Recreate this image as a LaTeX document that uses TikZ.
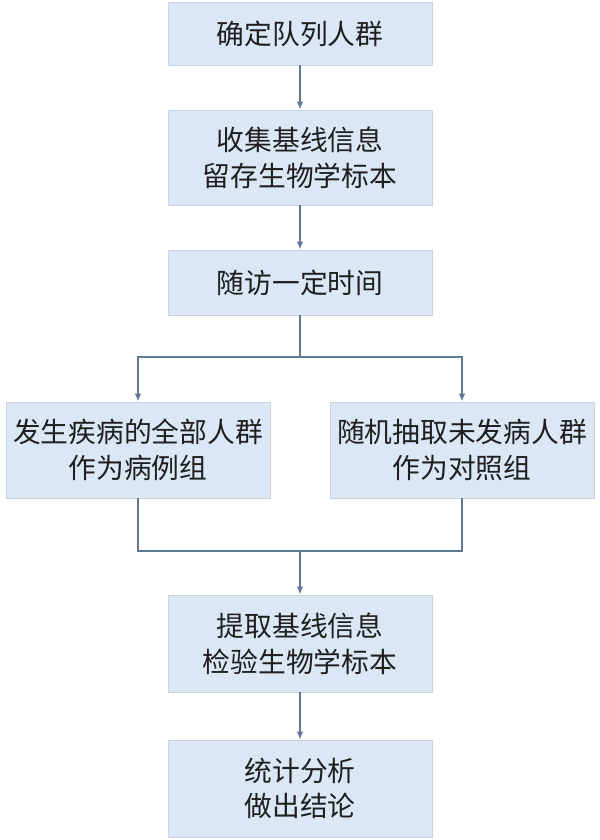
\documentclass[tikz,border=0pt]{standalone}
\usepackage{fontspec}
\setmainfont{Noto Sans CJK SC}
\usetikzlibrary{arrows.meta, positioning}
\definecolor{boxFill}{HTML}{DCE7F6}
\definecolor{boxLine}{HTML}{C9D3E0}
\definecolor{flowLine}{HTML}{5F7A91}
\tikzset{
    stepBox/.style={rectangle, draw=boxLine, fill=boxFill, line width=0.8pt, minimum width=7.92cm, align=center, inner sep=0pt, text=black!88, font=\fontsize{23.7}{30.5}\selectfont},
    flowArrow/.style={-{Latex[length=2.4mm, width=2mm]}, draw=flowLine, line width=1.2pt}
}

\begin{document}
\begin{tikzpicture}[x=0.03cm, y=-0.03cm]
    \useasboundingbox (0,0) rectangle (600,840);
    \node[stepBox, minimum height=1.89cm] (Cohort) at (300,33.5) {确定队列人群};
    \node[stepBox, minimum height=2.85cm] (Baseline) at (300,157.5) {收集基线信息\\留存生物学标本};
    \node[stepBox, minimum height=1.95cm] (FollowUp) at (300,282.5) {随访一定时间};
    \node[stepBox, minimum height=2.88cm] (CaseGrp) at (138,450) {发生疾病的全部人群\\作为病例组};
    \node[stepBox, minimum height=2.88cm] (CtrlGrp) at (462,450) {随机抽取未发病人群\\作为对照组};
    \node[stepBox, minimum height=2.91cm] (Extract) at (300,643.5) {提取基线信息\\检验生物学标本};
    \node[stepBox, minimum height=2.91cm] (Analysis) at (300,788.5) {统计分析\\做出结论};
    \coordinate (Split) at (300,357);
    \coordinate (Merge) at (300,551);
    \draw[flowArrow] (Cohort)--(Baseline);
    \draw[flowArrow] (Baseline)--(FollowUp);
    \draw[flowLine, line width=1.2pt] (FollowUp)--(Split);
    \draw[flowArrow] (Split)-|(CaseGrp);
    \draw[flowArrow] (Split)-|(CtrlGrp);
    \draw[flowLine, line width=1.2pt] (CaseGrp)|-(Merge);
    \draw[flowLine, line width=1.2pt] (CtrlGrp)|-(Merge);
    \draw[flowArrow] (Merge)--(Extract);
    \draw[flowArrow] (Extract)--(Analysis);
\end{tikzpicture}
\end{document}
